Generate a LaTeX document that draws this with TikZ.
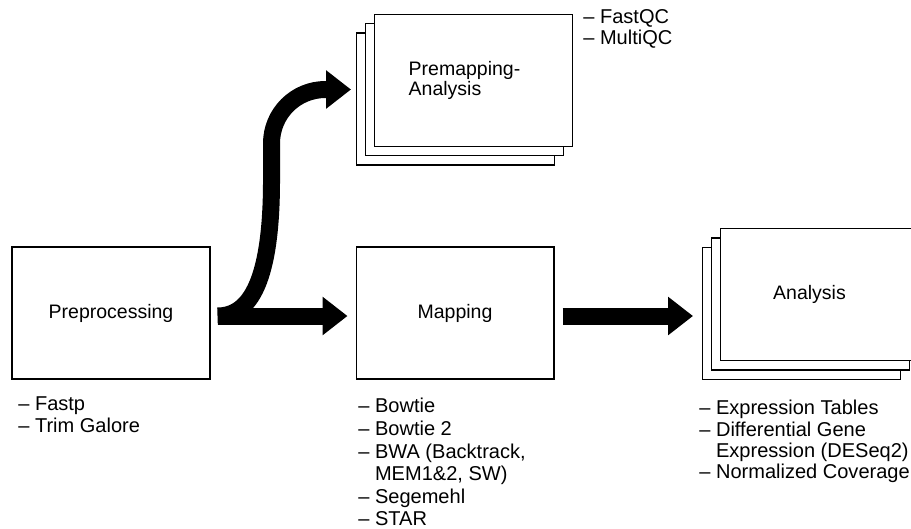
\documentclass[tikz,border=0pt]{standalone}
\usepackage{fontspec}
\setmainfont{Liberation Sans}
\usepackage{tikz}
\usetikzlibrary{arrows.meta}

\tikzset{
  box/.style={draw, line width=0.6pt, fill=white, minimum width=3.96cm,
    minimum height=2.64cm, inner sep=0pt,
    font=\fontsize{11.1}{11.4}\selectfont},
  boxtext/.style={inner sep=0pt, align=left, font=\fontsize{11.1}{11.4}\selectfont},
  toollist/.style={inner sep=0pt, align=left, anchor=north west,
    font=\fontsize{11.4}{#1}\selectfont},
  toollist/.default=12.5pt,
  bigarrow/.style={line width=0.34cm, -{Triangle[length=0.5cm,width=0.74cm]}}
}

\begin{document}
\begin{tikzpicture}[x=0.02cm, y=-0.02cm]
      \useasboundingbox (0,0) rectangle (911,528);
      % main steps
      \node[box] (prep) at (111,313) {Preprocessing};
      \node[box] (map) at (455,313) {Mapping};
      % stacked pages
      \node[box] (premap3) at (455.5,99) {};
      \node[box] (premap2) at (464.5,89.5) {};
      \node[box] (premap) at (473.5,80.5) {};
      \node[boxtext] (premaplabel) at ([xshift=-0.18cm]premap.center) {Premapping-\\Analysis};
      \node[box] (ana3) at (801.5,313.5) {};
      \node[box] (ana2) at (810.5,304) {};
      \node[box] (ana) at (819.5,294.5) {};
      \node[boxtext] (analabel) at ([xshift=-0.2cm]ana.center) {Analysis};
      % tools
      \node[toollist=12.6pt] (preptools) at (18,396) {– Fastp\\– Trim Galore};
      \node[toollist=12.85pt] (maptools) at (358,398) {– Bowtie\\– Bowtie 2\\– BWA (Backtrack,\\\phantom{– }MEM1\&2, SW)\\– Segemehl\\– STAR};
      \node[toollist=12pt] (premaptools) at (583,9) {– FastQC\\– MultiQC};
      \node[toollist=12.1pt] (anatools) at (699,400) {– Expression Tables\\– Differential Gene\\\phantom{– }Expression (DESeq2)\\– Normalized Coverage};
      % arrows
      \coordinate (split) at ([shift={(7,3)}]prep.east);
      \coordinate (premapin) at ([xshift=-0.1cm]premap3.west |- premap2.west);
      \coordinate (bend) at ([xshift=1.08cm]split |- premapin);
      \draw[bigarrow, shorten >=0.16cm] (split) -- (split -| map.west);
      \draw[bigarrow, shorten <=0.16cm, shorten >=0.18cm] (map.east |- split) -- (split -| ana3.west);
      \draw[bigarrow] (split)
        .. controls ([xshift=0.66cm]split) and ([shift={(54,-36)}]split) .. ([shift={(54,-136)}]split)
        -- ([yshift=-1.08cm]bend)
        .. controls ([yshift=-0.48cm]bend) and ([xshift=0.48cm]bend) .. ([xshift=1.08cm]bend)
        -- (premapin);
\end{tikzpicture}
\end{document}
